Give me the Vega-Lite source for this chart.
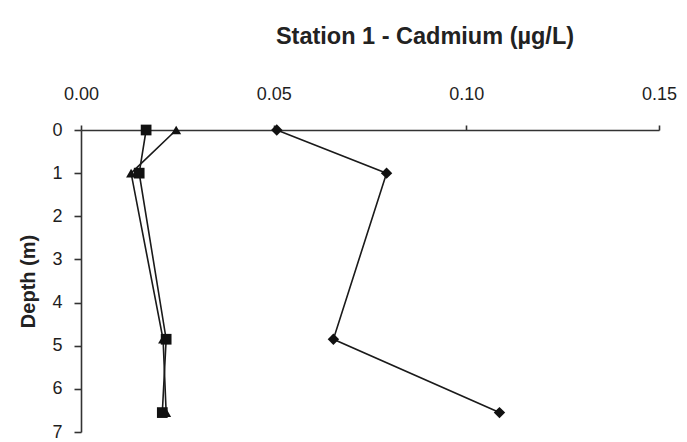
{
  "$schema": "https://vega.github.io/schema/vega-lite/v6.json",
  "autosize": "none",
  "width": 578,
  "height": 302,
  "padding": {"left": 81, "top": 130, "right": 28, "bottom": 10},
  "background": "white",
  "title": {
    "text": "Station 1 - Cadmium (µg/L)",
    "font": "Liberation Sans",
    "fontSize": 23.5,
    "fontWeight": "bold",
    "color": "#222222",
    "anchor": "middle",
    "dx": 55,
    "offset": 37
  },
  "config": {
    "view": {"stroke": null},
    "font": "Liberation Sans"
  },
  "data": {
    "values": [
      {"survey": "Survey A", "depth": 0, "cd": 0.0508},
      {"survey": "Survey A", "depth": 1, "cd": 0.0793},
      {"survey": "Survey A", "depth": 4.85, "cd": 0.0655},
      {"survey": "Survey A", "depth": 6.55, "cd": 0.1086},
      {"survey": "Survey B", "depth": 0, "cd": 0.0169},
      {"survey": "Survey B", "depth": 1, "cd": 0.0151},
      {"survey": "Survey B", "depth": 4.85, "cd": 0.0221},
      {"survey": "Survey B", "depth": 6.55, "cd": 0.0211},
      {"survey": "Survey C", "depth": 0, "cd": 0.0247},
      {"survey": "Survey C", "depth": 1, "cd": 0.013},
      {"survey": "Survey C", "depth": 4.85, "cd": 0.0213},
      {"survey": "Survey C", "depth": 6.55, "cd": 0.0221}
    ]
  },
  "encoding": {
    "x": {
      "field": "cd",
      "type": "quantitative",
      "scale": {"domain": [0, 0.15], "nice": false, "zero": false},
      "axis": {
        "orient": "top",
        "title": null,
        "values": [0, 0.05, 0.1, 0.15],
        "format": ".2f",
        "grid": false,
        "domainColor": "#333333",
        "domainWidth": 1.6,
        "tickColor": "#333333",
        "tickWidth": 1.6,
        "tickSize": 5,
        "labelFont": "Liberation Sans",
        "labelFontSize": 18,
        "labelColor": "#1e1e1e",
        "labelPadding": 22,
        "labelFlush": false
      }
    },
    "y": {
      "field": "depth",
      "type": "quantitative",
      "scale": {"domain": [0, 7], "nice": false, "reverse": true},
      "axis": {
        "title": "Depth (m)",
        "titleFont": "Liberation Sans",
        "titleFontSize": 20,
        "titleFontWeight": "bold",
        "titleColor": "#222222",
        "titlePadding": 13,
        "values": [0, 1, 2, 3, 4, 5, 6, 7],
        "grid": false,
        "domainColor": "#333333",
        "domainWidth": 1.6,
        "tickColor": "#333333",
        "tickWidth": 1.6,
        "tickSize": 7,
        "labelFont": "Liberation Sans",
        "labelFontSize": 18,
        "labelColor": "#1e1e1e",
        "labelPadding": 12,
        "labelFlush": false
      }
    }
  },
  "layer": [
    {
      "mark": {"type": "line", "color": "#1a1a1a", "strokeWidth": 1.6},
      "encoding": {
        "detail": {"field": "survey"},
        "order": {"field": "depth", "type": "quantitative"}
      }
    },
    {
      "mark": {"type": "point", "filled": true, "color": "#111111", "opacity": 1},
      "encoding": {
        "shape": {
          "field": "survey",
          "type": "nominal",
          "scale": {"domain": ["Survey A", "Survey B", "Survey C"], "range": ["diamond", "square", "triangle-up"]},
          "legend": null
        },
        "size": {
          "field": "survey",
          "type": "nominal",
          "scale": {"domain": ["Survey A", "Survey B", "Survey C"], "range": [130, 100, 130]},
          "legend": null
        }
      }
    }
  ]
}
